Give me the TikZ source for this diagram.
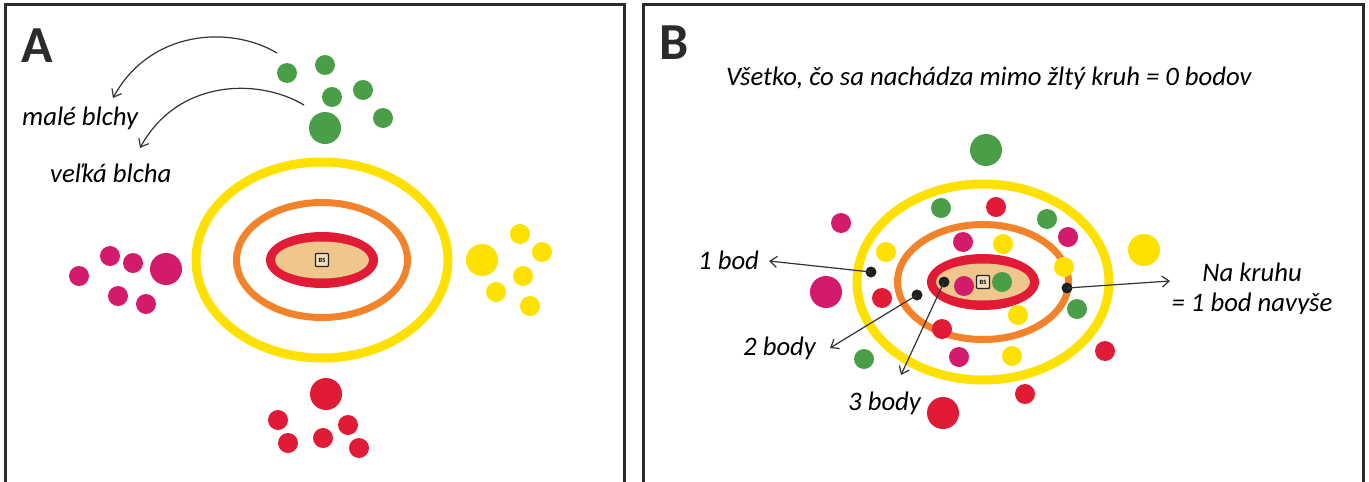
\documentclass[tikz,border=0pt]{standalone}
\usepackage{fontspec}
\setmainfont{Carlito}
\usetikzlibrary{arrows.meta}
\definecolor{cyel}{HTML}{FFE100}
\definecolor{corg}{HTML}{F2832B}
\definecolor{cred}{HTML}{E11B36}
\definecolor{cmag}{HTML}{D31A6B}
\definecolor{cgrn}{HTML}{4B9E48}
\definecolor{ctan}{HTML}{EFC68C}
\definecolor{cfrm}{HTML}{2B2B2B}
\definecolor{carr}{HTML}{333333}
\begin{document}
\begin{tikzpicture}[x=1pt,y=-1pt,
  dot/.style={circle,inner sep=0pt,minimum size=20pt},
  bigdot/.style={circle,inner sep=0pt,minimum size=32pt},
  pmark/.style={circle,fill=black!88,inner sep=0pt,minimum size=11pt},
  lbl/.style={inner sep=0pt,anchor=base west,font=\itshape\fontsize{26.7}{32}\selectfont},
  arr/.style={draw=carr,line width=1.2pt,-{Straight Barb[length=7pt,width=11pt]}},
  panelframe/.style={draw=cfrm,line width=3pt},
  panellbl/.style={inner sep=0pt,anchor=base west,font=\bfseries\fontsize{52}{52}\selectfont,text=cfrm},
  bsicon/.style={draw=black!85,line width=1.4pt,fill=ctan!60!white,rounded corners=1pt,minimum size=13pt,inner sep=0pt,font=\bfseries\fontsize{6.5}{6.5}\selectfont}
  ]
\useasboundingbox (0,0) rectangle (1369,482);
% frames
\draw[panelframe] (5.5,490) -- (5.5,4.5) -- (624.5,4.5) -- (624.5,490);
\draw[panelframe] (643.5,490) -- (643.5,4.5) -- (1363.5,4.5) -- (1363.5,490);
\node[panellbl] (labA) at (21,62) {A};
\node[panellbl] (labB) at (659,59) {B};

% ===== Panel A target =====
\draw[cyel,line width=9pt] (322,260) ellipse [x radius=126pt,y radius=98pt];
\draw[corg,line width=7pt] (322,260) ellipse [x radius=85.5pt,y radius=57.5pt];
\fill[cred] (322,260) ellipse [x radius=56pt,y radius=28pt];
\fill[ctan] (322,260) ellipse [x radius=47pt,y radius=18.5pt];
\node[bsicon] (bsA) at (322,260) {BS};

% green
\node[dot,fill=cgrn] (ga1) at (287,73) {};
\node[dot,fill=cgrn] (ga2) at (325,65) {};
\node[dot,fill=cgrn] (ga3) at (332,97) {};
\node[dot,fill=cgrn] (ga4) at (363,90) {};
\node[dot,fill=cgrn] (ga5) at (383,118) {};
\node[bigdot,fill=cgrn] (ga6) at (325,128) {};
% yellow
\node[bigdot,fill=cyel] (ya1) at (482,260) {};
\node[dot,fill=cyel] (ya2) at (520,234) {};
\node[dot,fill=cyel] (ya3) at (542,252) {};
\node[dot,fill=cyel] (ya4) at (523,276) {};
\node[dot,fill=cyel] (ya5) at (496,292) {};
\node[dot,fill=cyel] (ya6) at (530,306) {};
% magenta
\node[bigdot,fill=cmag] (ma1) at (166,269) {};
\node[dot,fill=cmag] (ma2) at (79,276) {};
\node[dot,fill=cmag] (ma3) at (110,256) {};
\node[dot,fill=cmag] (ma4) at (133,263) {};
\node[dot,fill=cmag] (ma5) at (118,296) {};
\node[dot,fill=cmag] (ma6) at (146,304) {};
% red
\node[bigdot,fill=cred] (ra1) at (326,394) {};
\node[dot,fill=cred] (ra2) at (278,420) {};
\node[dot,fill=cred] (ra3) at (348,425) {};
\node[dot,fill=cred] (ra4) at (288,443) {};
\node[dot,fill=cred] (ra5) at (323,438) {};
\node[dot,fill=cred] (ra6) at (359,448) {};

\node[lbl] (tmale) at (22,125) {malé blchy};
\node[lbl] (tvelka) at (50,182) {veľká blcha};
\coordinate (a1s) at (277,53);
\coordinate (a1e) at (113,98);
\coordinate (a2s) at (304,105);
\coordinate (a2e) at (140,148);
\draw[arr] (a1s) .. controls (230,25) and (150,30) .. (a1e);
\draw[arr] (a2s) .. controls (257,77) and (177,80) .. (a2e);

% ===== Panel B =====
\node[lbl] (title) at (726,85) {Všetko, čo sa nachádza mimo žltý kruh = 0 bodov};
\draw[cyel,line width=9pt] (983,282) ellipse [x radius=126pt,y radius=98pt];
\draw[corg,line width=7pt] (983,282) ellipse [x radius=85.5pt,y radius=57.5pt];
\fill[cred] (983,282) ellipse [x radius=56pt,y radius=28pt];
\fill[ctan] (983,282) ellipse [x radius=47pt,y radius=18.5pt];
\node[bsicon] (bsB) at (983,282) {BS};

% green
\node[dot,fill=cgrn] (gb1) at (941,208) {};
\node[dot,fill=cgrn] (gb2) at (1047,219) {};
\node[dot,fill=cgrn] (gb3) at (1002,282) {};
\node[dot,fill=cgrn] (gb4) at (1077,309) {};
\node[dot,fill=cgrn] (gb5) at (864,359) {};
\node[bigdot,fill=cgrn] (gb6) at (986,150) {};
% red
\node[dot,fill=cred] (rb1) at (996,207) {};
\node[dot,fill=cred] (rb2) at (882,298) {};
\node[dot,fill=cred] (rb3) at (942,329) {};
\node[dot,fill=cred] (rb4) at (1105,351) {};
\node[dot,fill=cred] (rb5) at (1025,394) {};
\node[bigdot,fill=cred] (rb6) at (943,413) {};
% magenta
\node[dot,fill=cmag] (mb1) at (1068,237) {};
\node[dot,fill=cmag] (mb2) at (841,223) {};
\node[dot,fill=cmag] (mb3) at (963,242) {};
\node[dot,fill=cmag] (mb4) at (964,286) {};
\node[dot,fill=cmag] (mb5) at (959,357) {};
\node[bigdot,fill=cmag] (mb6) at (826,292) {};
% yellow
\node[dot,fill=cyel] (yb1) at (1003,244) {};
\node[dot,fill=cyel] (yb2) at (886,252) {};
\node[dot,fill=cyel] (yb3) at (1064,267) {};
\node[dot,fill=cyel] (yb4) at (1018,315) {};
\node[dot,fill=cyel] (yb5) at (1012,356) {};
\node[bigdot,fill=cyel] (yb6) at (1144,250) {};

% markers
\node[pmark] (m1) at (871,272) {};
\node[pmark] (m2) at (917,295) {};
\node[pmark] (m3) at (944,282) {};
\node[pmark] (m4) at (1067,288) {};
\coordinate (t1) at (769,261);
\coordinate (t2) at (830,348);
\coordinate (t3) at (901,375);
\coordinate (t4) at (1170,281);
\draw[arr] (m1.center) -- (t1);
\draw[arr] (m2.center) -- (t2);
\draw[arr] (m3.center) -- (t3);
\draw[arr] (m4.center) -- (t4);

\node[lbl] (l1) at (698,269) {1 bod};
\node[lbl] (l2) at (743,355) {2 body};
\node[lbl] (l3) at (848,410) {3 body};
\node[lbl,anchor=base] (l4a) at (1252,281) {Na kruhu};
\begin{scope}
\clip (1100,288) rectangle (1360,313);
\node[lbl,anchor=base] (l4b) at (1252,311) {= 1 bod navyše};
\end{scope}
\end{tikzpicture}
\end{document}
